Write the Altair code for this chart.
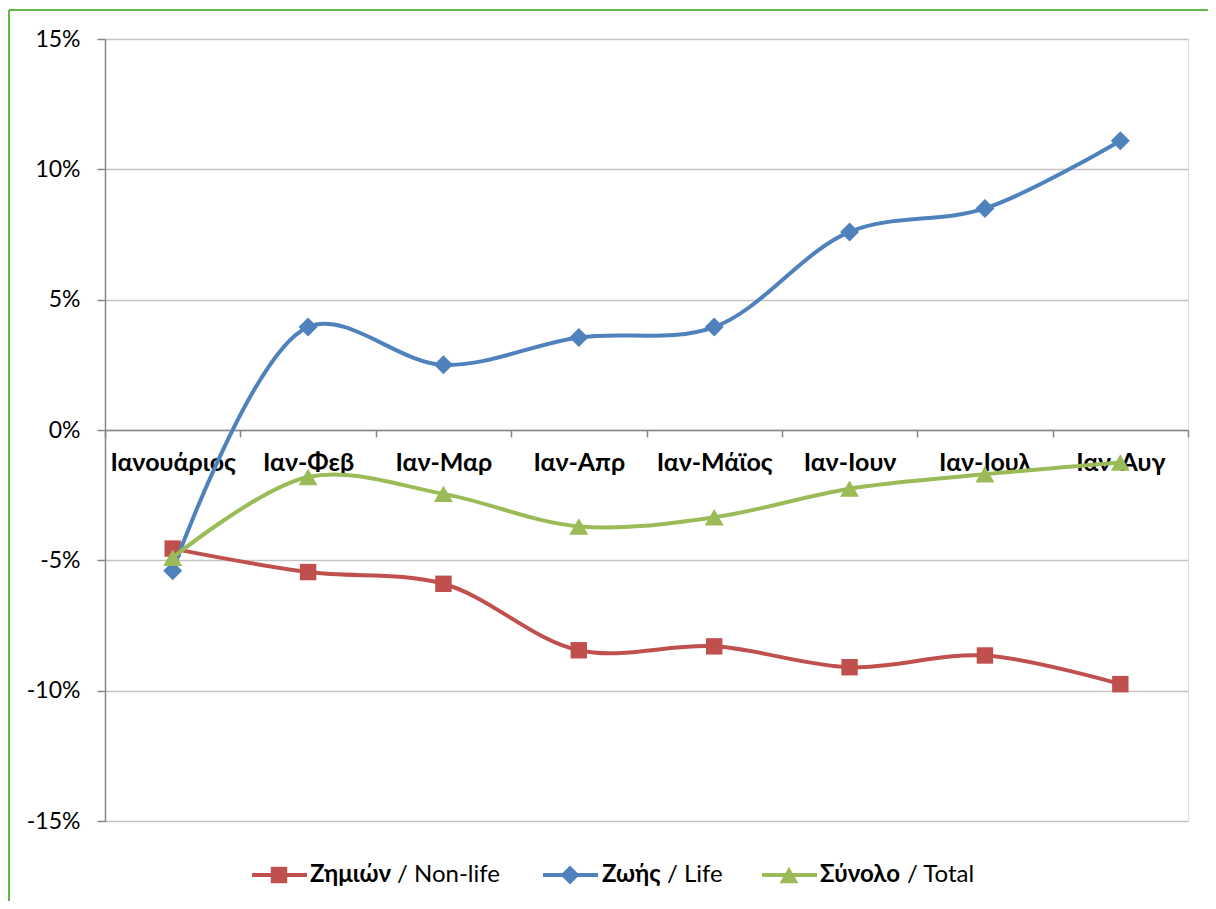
import altair as alt
import pandas as pd

months = ["Ιανουάριος", "Ιαν-Φεβ", "Ιαν-Μαρ", "Ιαν-Απρ", "Ιαν-Μάϊος", "Ιαν-Ιουν", "Ιαν-Ιουλ", "Ιαν-Αυγ"]
non_life = [-4.55, -5.45, -5.9, -8.45, -8.3, -9.1, -8.65, -9.75]
life = [-5.4, 3.95, 2.5, 3.55, 3.95, 7.6, 8.5, 11.1]
total = [-4.9, -1.8, -2.45, -3.7, -3.35, -2.25, -1.7, -1.25]

series_names = ["Non-life", "Life", "Total"]
series_bold = ["Ζημιών", "Ζωής", "Σύνολο"]
series_colors = ["#C0504D", "#4F81BD", "#9BBB59"]
series_shapes = ["square", "diamond", "triangle-up"]
series_sizes = [270, 360, 360]
series_values = [non_life, life, total]

FONT = "Lato"
W, H = 1083, 782

xenc = alt.X("month:N", sort=months,
             scale=alt.Scale(type="band", paddingInner=0, paddingOuter=0),
             axis=alt.Axis(title=None, orient="bottom", offset=-391, labelAngle=0,
                           tickBand="extent", tickSize=7, tickColor="#868686",
                           domainColor="#868686", domainWidth=1.5, tickWidth=1.5,
                           labelFont=FONT, labelFontWeight="bold", labelFontSize=25,
                           labelColor="#000000", labelPadding=13, grid=False))
yenc = alt.Y("value:Q", scale=alt.Scale(domain=[-15, 15], nice=False),
             axis=alt.Axis(title=None, values=[-15, -10, -5, 0, 5, 10, 15],
                           labelExpr="datum.value + '%'", tickSize=8,
                           tickColor="#868686", domainColor="#868686", domainWidth=1.5,
                           tickWidth=1.5, gridColor="#C4C4C4", gridWidth=1.3,
                           labelFont=FONT, labelFontSize=23, labelColor="#000000",
                           labelPadding=17))

layers = []
for name, vals, col, shp, sz in zip(series_names, series_values, series_colors, series_shapes, series_sizes):
    df = pd.DataFrame({"month": months, "value": vals})
    base = alt.Chart(df)
    layers.append(base.mark_line(interpolate="catmull-rom", strokeWidth=4, color=col).encode(x=xenc, y=yenc))
    layers.append(base.mark_point(filled=True, shape=shp, size=sz, color=col, opacity=1).encode(x=xenc, y=yenc))

# legend (manual, mixed bold/normal text)
leg_line_x = [147, 438, 657]
bold_x = [205, 497, 715]
txt_x = [292, 562, 802]
LY = 836
dummy = pd.DataFrame({"a": [0]})
for i in range(3):
    x0 = leg_line_x[i]
    c = alt.Chart(dummy)
    layers.append(c.mark_rule(strokeWidth=4, color=series_colors[i]).encode(
        x=alt.value(x0), x2=alt.value(x0 + 55), y=alt.value(LY)))
    layers.append(c.mark_point(filled=True, shape=series_shapes[i], size=series_sizes[i],
                               color=series_colors[i], opacity=1).encode(
        x=alt.value(x0 + 27), y=alt.value(LY)))
    layers.append(c.mark_text(text=series_bold[i], font=FONT, fontWeight="bold", fontSize=24,
                              align="left", baseline="middle", color="#000000").encode(
        x=alt.value(bold_x[i]), y=alt.value(LY)))
    layers.append(c.mark_text(text="/ " + series_names[i], font=FONT, fontSize=24,
                              align="left", baseline="middle", color="#000000").encode(
        x=alt.value(txt_x[i]), y=alt.value(LY)))

# green outer border
c = alt.Chart(dummy)
layers.append(c.mark_rule(strokeWidth=2, color="#5DB844").encode(
    x=alt.value(-96), y=alt.value(-29), y2=alt.value(900)))
layers.append(c.mark_rule(strokeWidth=2, color="#5DB844").encode(
    x=alt.value(-96), x2=alt.value(1200), y=alt.value(-29)))

chart = alt.layer(*layers).properties(
    width=W, height=H,
    autosize=alt.AutoSizeParams(type="none"),
    padding={"left": 97, "top": 31, "right": 20, "bottom": 80},
).configure_view(stroke=None).configure(background="white")

chart.save("out.html", embed_options={"renderer": "svg", "actions": False})
